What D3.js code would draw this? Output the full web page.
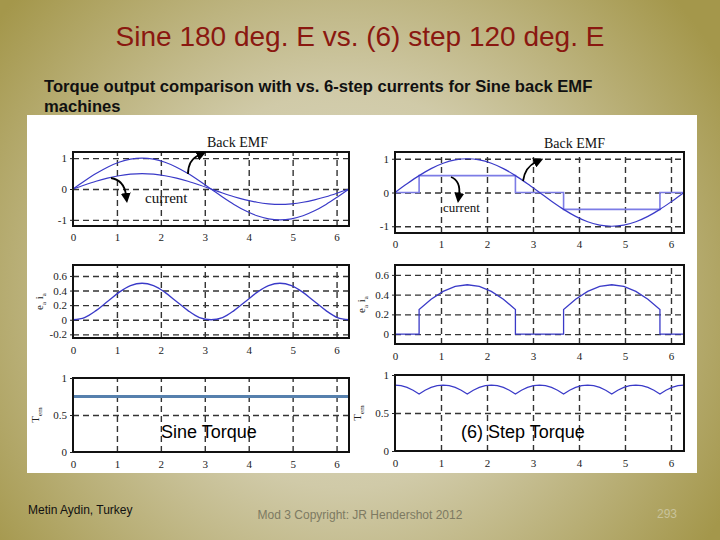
<!DOCTYPE html>
<html><head><meta charset="utf-8">
<script src="https://cdn.jsdelivr.net/npm/d3@7"></script>
<style>html,body{margin:0;padding:0;background:#fff;} svg{display:block}</style>
</head><body><svg id="c" width="720" height="540"></svg>
<script>
// ---------------- data ----------------
const xTicks = [0, 1, 2, 3, 4, 5, 6];
const theta = [0, 0.262, 0.524, 0.785, 1.047, 1.309, 1.571, 1.833, 2.094, 2.356, 2.618, 2.880, 3.142,
               3.403, 3.665, 3.927, 4.189, 4.451, 4.712, 4.974, 5.236, 5.498, 5.760, 6.021, 6.283];
const backEmf = [0, 0.259, 0.5, 0.707, 0.866, 0.966, 1, 0.966, 0.866, 0.707, 0.5, 0.259, 0,
                 -0.259, -0.5, -0.707, -0.866, -0.966, -1, -0.966, -0.866, -0.707, -0.5, -0.259, 0];
const sineCurrent = [0, 0.13, 0.25, 0.35, 0.43, 0.48, 0.5, 0.48, 0.43, 0.35, 0.25, 0.13, 0,
                     -0.13, -0.25, -0.35, -0.43, -0.48, -0.5, -0.48, -0.43, -0.35, -0.25, -0.13, 0];
const sinePower = [0, 0.03, 0.125, 0.25, 0.375, 0.467, 0.5, 0.467, 0.375, 0.25, 0.125, 0.03, 0,
                   0.03, 0.125, 0.25, 0.375, 0.467, 0.5, 0.467, 0.375, 0.25, 0.125, 0.03, 0];
const stepX = [0, 0.524, 2.618, 3.665, 5.760, 6.283];
const stepCurrent = [0, 0.5, 0, -0.5, 0, 0];
const stepPowerX = [0, 0.524, 0.524, 0.785, 1.047, 1.309, 1.571, 1.833, 2.094, 2.356, 2.618, 2.618,
                    3.665, 3.665, 3.927, 4.189, 4.451, 4.712, 4.974, 5.236, 5.498, 5.760, 5.760, 6.283];
const stepPower = [0, 0, 0.25, 0.354, 0.433, 0.483, 0.5, 0.483, 0.433, 0.354, 0.25, 0,
                   0, 0.25, 0.354, 0.433, 0.483, 0.5, 0.483, 0.433, 0.354, 0.25, 0, 0];
const sineTorqueX = [0, 6.283];
const sineTorque = [0.75, 0.75];
const rippleX = [0, 0.131, 0.262, 0.393, 0.524, 0.654, 0.785, 0.916, 1.047, 1.178, 1.309, 1.440,
                 1.571, 1.702, 1.833, 1.963, 2.094, 2.225, 2.356, 2.487, 2.618, 2.749, 2.880, 3.011,
                 3.142, 3.272, 3.403, 3.534, 3.665, 3.796, 3.927, 4.058, 4.189, 4.320, 4.451, 4.581,
                 4.712, 4.843, 4.974, 5.105, 5.236, 5.367, 5.498, 5.629, 5.760, 5.890, 6.021, 6.152, 6.283];
const stepTorque = [0.866, 0.859, 0.837, 0.800, 0.750, 0.800, 0.837, 0.859,
                    0.866, 0.859, 0.837, 0.800, 0.750, 0.800, 0.837, 0.859,
                    0.866, 0.859, 0.837, 0.800, 0.750, 0.800, 0.837, 0.859,
                    0.866, 0.859, 0.837, 0.800, 0.750, 0.800, 0.837, 0.859,
                    0.866, 0.859, 0.837, 0.800, 0.750, 0.800, 0.837, 0.859,
                    0.866, 0.859, 0.837, 0.800, 0.750, 0.800, 0.837, 0.859, 0.866];
const yTicksEmf = [-1, 0, 1];
const yTicksSinePower = [-0.2, 0, 0.2, 0.4, 0.6];
const yTicksStepPower = [0, 0.2, 0.4, 0.6];
const yTicksTorque = [0, 0.5, 1];

const titleText = "Sine 180 deg. E vs. (6) step 120 deg. E";
const subtitleLines = ["Torque output comparison with vs. 6-step currents for Sine back EMF", "machines"];
const footerLeft = "Metin Aydin, Turkey";
const footerMid = "Mod 3 Copyright: JR Hendershot 2012";
const footerRight = "293";

// ---------------- drawing ----------------
const svg = d3.select("#c");
const defs = svg.append("defs");
const rg = defs.append("radialGradient").attr("id", "bg").attr("gradientUnits", "userSpaceOnUse")
  .attr("cx", 345).attr("cy", 290).attr("r", 440);
rg.append("stop").attr("offset", "0%").attr("stop-color", "#dedbc6");
rg.append("stop").attr("offset", "45%").attr("stop-color", "#d0caa8");
rg.append("stop").attr("offset", "100%").attr("stop-color", "#a4974b");
defs.append("marker").attr("id", "ah").attr("viewBox", "0 0 10 10").attr("refX", 2).attr("refY", 5)
  .attr("markerWidth", 10).attr("markerHeight", 10).attr("markerUnits", "userSpaceOnUse").attr("orient", "auto")
  .append("path").attr("d", "M0,0 L10,5 L0,10 Z").attr("fill", "#000");

svg.append("rect").attr("width", 720).attr("height", 540).attr("fill", "url(#bg)");

svg.append("text").attr("x", 360).attr("y", 46).attr("text-anchor", "middle")
  .attr("font-family", "Liberation Sans, Arial, sans-serif").attr("font-size", 28)
  .attr("fill", "#8a1810").text(titleText);
subtitleLines.forEach((t, i) => svg.append("text").attr("x", 44).attr("y", 92 + i * 20)
  .attr("font-family", "Liberation Sans, Arial, sans-serif").attr("font-size", 16.6).attr("font-weight", "bold")
  .attr("fill", "#111").text(t));

// white image region
svg.append("rect").attr("x", 27).attr("y", 115).attr("width", 670).attr("height", 358).attr("fill", "#fff");

const blue = "#3a3ac8";
const panels = [
  {xr: [73, 349], yr: [226, 152], dom: [-1.2, 1.2], yt: yTicksEmf, xlab: 11,
   series: [{x: theta, y: backEmf, c: blue, w: 1.2, curve: d3.curveCatmullRom},
            {x: theta, y: sineCurrent, c: blue, w: 1.2, curve: d3.curveCatmullRom}]},
  {xr: [395, 684], yr: [233, 152], dom: [-1.2, 1.2], yt: yTicksEmf, xlab: 11,
   series: [{x: stepX, y: stepCurrent, c: "#7c7ce6", w: 1.6, curve: d3.curveStepAfter},
            {x: theta, y: backEmf, c: blue, w: 1.2, curve: d3.curveCatmullRom}]},
  {xr: [73, 349], yr: [338, 265], dom: [-0.25, 0.75], yt: yTicksSinePower, xlab: 12, ylab: "ei",
   series: [{x: theta, y: sinePower, c: blue, w: 1.3, curve: d3.curveCatmullRom}]},
  {xr: [395, 684], yr: [344, 265], dom: [-0.1, 0.7], yt: yTicksStepPower, xlab: 12, ylab: "ei",
   series: [{x: stepPowerX, y: stepPower, c: blue, w: 1.3, curve: d3.curveLinear}]},
  {xr: [73, 349], yr: [452, 378], dom: [0, 1], yt: yTicksTorque, xlab: 12, ylab: "T",
   series: [{x: sineTorqueX, y: sineTorque, c: "#5680ad", w: 3, curve: d3.curveLinear}]},
  {xr: [395, 684], yr: [451, 375], dom: [0, 1], yt: yTicksTorque, xlab: 12, ylab: "T",
   series: [{x: rippleX, y: stepTorque, c: blue, w: 1.2, curve: d3.curveLinear}]}
];

const serif = "Liberation Serif, Times New Roman, serif";
panels.forEach(p => {
  const x = d3.scaleLinear().domain([0, 6.283]).range(p.xr);
  const y = d3.scaleLinear().domain(p.dom).range(p.yr);
  const g = svg.append("g");
  const h = p.yr[0] - p.yr[1], w = p.xr[1] - p.xr[0];
  // grid
  const gx = g.append("g").attr("transform", `translate(0,${p.yr[0]})`)
    .call(d3.axisBottom(x).tickValues(xTicks.filter(v => v > 0)).tickSize(-h).tickFormat(""));
  const gy = g.append("g").attr("transform", `translate(${p.xr[0]},0)`)
    .call(d3.axisLeft(y).tickValues(p.yt.filter(v => v > p.dom[0] && v < p.dom[1])).tickSize(-w).tickFormat(""));
  [gx, gy].forEach(a => { a.select(".domain").remove();
    a.selectAll("line").attr("stroke", "#333").attr("stroke-width", 1.4).attr("stroke-dasharray", "6,4"); });
  // series
  p.series.forEach(s => {
    const line = d3.line().x(d => x(d[0])).y(d => y(d[1])).curve(s.curve);
    g.append("path").attr("d", line(s.x.map((v, i) => [v, s.y[i]])))
      .attr("fill", "none").attr("stroke", s.c).attr("stroke-width", s.w);
  });
  // box
  g.append("rect").attr("x", p.xr[0]).attr("y", p.yr[1]).attr("width", w).attr("height", h)
    .attr("fill", "none").attr("stroke", "#111").attr("stroke-width", 2);
  // tick labels
  const ax = g.append("g").attr("transform", `translate(0,${p.yr[0]})`)
    .call(d3.axisBottom(x).tickValues(xTicks).tickSize(0).tickPadding(p.xlab).tickFormat(d3.format("d")));
  const ay = g.append("g").attr("transform", `translate(${p.xr[0]},0)`)
    .call(d3.axisLeft(y).tickValues(p.yt).tickSize(3).tickPadding(3).tickFormat(d => d === 0 ? "0" : String(d)));
  [ax, ay].forEach(a => { a.select(".domain").remove();
    a.selectAll("text").attr("font-family", serif).attr("font-size", 11).attr("fill", "#222");
    a.selectAll("line").attr("stroke", "#222"); });
  ax.selectAll("text").attr("dy", "0.32em");
  // y-axis label
  if (p.ylab) {
    const lx = p.xr[0] - (p.ylab === "T" ? 34 : 30);
    const ly = (p.yr[0] + p.yr[1]) / 2;
    const t = g.append("text").attr("transform", `translate(${lx},${ly}) rotate(-90)`)
      .attr("text-anchor", "middle").attr("font-family", serif).attr("font-size", 11).attr("fill", "#222");
    if (p.ylab === "ei") {
      t.append("tspan").text("e");
      t.append("tspan").attr("font-size", 7).attr("dy", 3).text("a");
      t.append("tspan").attr("dy", -3).text(" i");
      t.append("tspan").attr("font-size", 7).attr("dy", 3).text("a");
    } else {
      t.append("tspan").text("T");
      t.append("tspan").attr("font-size", 7).attr("dy", 3).text("em");
    }
  }
});

// annotations
const ann = svg.append("g").attr("font-family", serif).attr("fill", "#111");
ann.append("text").attr("x", 207).attr("y", 147).attr("font-size", 14).text("Back EMF");
ann.append("text").attr("x", 145).attr("y", 203).attr("font-size", 15).text("current");
ann.append("text").attr("x", 544).attr("y", 148).attr("font-size", 14).text("Back EMF");
ann.append("text").attr("x", 443).attr("y", 212).attr("font-size", 13).text("current");
const arrows = [
  "M188,174 Q188,160 199,155",
  "M111,178 Q124,180 126,195",
  "M523,181 Q525,167 536,162",
  "M451,177 Q461,181 459,195"
];
arrows.forEach(d => svg.append("path").attr("d", d).attr("fill", "none").attr("stroke", "#000")
  .attr("stroke-width", 1.8).attr("marker-end", "url(#ah)"));

svg.append("text").attr("x", 161).attr("y", 438).attr("font-family", "Liberation Sans, Arial, sans-serif")
  .attr("font-size", 18).attr("fill", "#000").text("Sine Torque");
svg.append("text").attr("x", 461).attr("y", 438).attr("font-family", "Liberation Sans, Arial, sans-serif")
  .attr("font-size", 18).attr("fill", "#000").text("(6) Step Torque");

// footer
const ff = "Liberation Sans, Arial, sans-serif";
svg.append("text").attr("x", 28).attr("y", 514).attr("font-family", ff).attr("font-size", 12).attr("fill", "#111").text(footerLeft);
svg.append("text").attr("x", 360).attr("y", 519).attr("text-anchor", "middle").attr("font-family", ff).attr("font-size", 12).attr("fill", "#7d7a62").text(footerMid);
svg.append("text").attr("x", 667).attr("y", 518).attr("text-anchor", "middle").attr("font-family", ff).attr("font-size", 12).attr("fill", "#c9c39b").text(footerRight);
</script></body></html>
